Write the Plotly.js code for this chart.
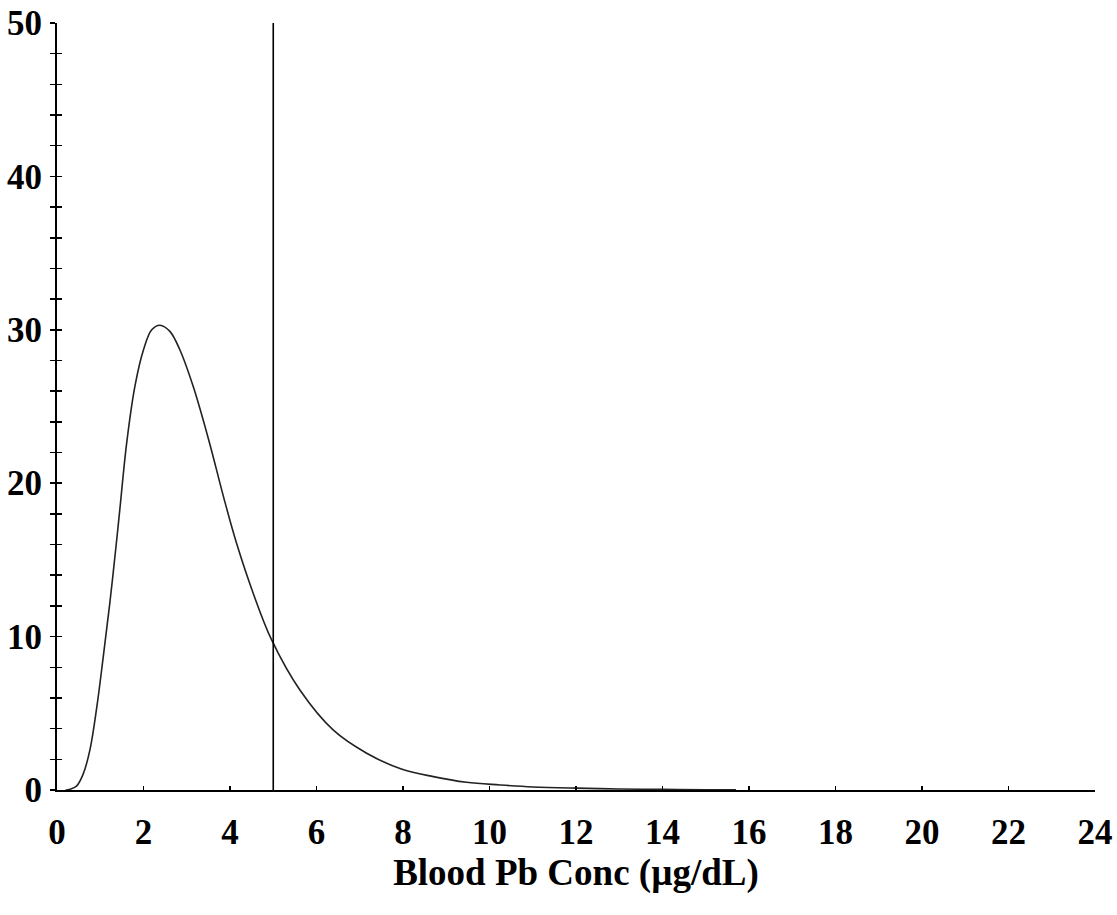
<!DOCTYPE html>
<html>
<head>
<meta charset="utf-8">
<script src="https://cdn.plot.ly/plotly-3.0.1.min.js"></script>
<style>html,body{margin:0;padding:0;background:#fff;}#chart{width:1117px;height:915px;}</style>
</head>
<body>
<div id="chart"></div>
<script>
// Blood Pb concentration distribution
const concX = [0.2, 0.3, 0.45, 0.6, 0.76, 0.92, 1.07, 1.23, 1.38, 1.46, 1.61, 1.80, 2.0, 2.19, 2.38, 2.61, 2.84, 3.15, 3.50, 3.88, 4.15, 4.54, 4.96, 5.62, 6.39, 7.16, 7.93, 8.70, 9.47, 10.24, 11.0, 12.0, 13.0, 14.0, 15.0, 15.7];
const densityY = [0, 0.05, 0.25, 1.0, 2.6, 5.4, 8.7, 12.4, 16.3, 18.5, 22.6, 26.3, 28.7, 30.0, 30.3, 29.9, 28.7, 26.3, 22.9, 18.8, 16.1, 12.8, 9.8, 6.5, 3.9, 2.4, 1.4, 0.87, 0.50, 0.33, 0.2, 0.12, 0.07, 0.04, 0.02, 0.01];
// Reference level line
const refLineX = [5, 5];
const refLineY = [0, 50];
const xTickVals = [0, 2, 4, 6, 8, 10, 12, 14, 16, 18, 20, 22, 24];
const xTitle = 'Blood Pb Conc (µg/dL)';

const family = '"Liberation Serif", "Times New Roman", serif';
const tickFont = {family: family, size: 35, color: '#000', weight: 'bold'};
const titleFont = {family: family, size: 37, color: '#000', weight: 'bold'};

const traces = [
  {x: concX, y: densityY, type: 'scatter', mode: 'lines', line: {color: '#222', width: 1.6, shape: 'spline', smoothing: 1}, hoverinfo: 'skip', showlegend: false},
  {x: refLineX, y: refLineY, type: 'scatter', mode: 'lines', line: {color: '#000', width: 1.6}, yaxis: 'y2', hoverinfo: 'skip', showlegend: false}
];

const layout = {
  width: 1117, height: 915,
  margin: {l: 57, r: 22, t: 23, b: 125},
  paper_bgcolor: '#fff', plot_bgcolor: '#fff',
  font: tickFont,
  showlegend: false,
  xaxis: {
    range: [0, 24], tickvals: xTickVals, ticktext: xTickVals.map(String),
    showgrid: false, zeroline: false, showline: true, linecolor: '#000', linewidth: 2,
    ticks: 'inside', ticklen: 4, tickwidth: 1.5, tickcolor: '#000',
    ticklabelstandoff: 10,
    tickfont: tickFont,
    title: {text: xTitle, font: titleFont, standoff: 6}
  },
  yaxis: {
    range: [0, 50], dtick: 10, tick0: 0,
    showgrid: false, zeroline: false, showline: true, linecolor: '#000', linewidth: 2,
    ticks: 'outside', ticklen: 5, tickwidth: 1.5, tickcolor: '#000',
    minor: {dtick: 2, ticks: 'outside', ticklen: 5, tickwidth: 1.5, tickcolor: '#000', showgrid: false},
    ticklabelstandoff: 1,
    tickfont: tickFont
  },
  yaxis2: {
    overlaying: 'y', side: 'left', range: [0, 50], dtick: 10, tick0: 0,
    showgrid: false, zeroline: false, showline: false, showticklabels: false,
    ticks: 'inside', ticklen: 5, tickwidth: 1.5, tickcolor: '#000',
    minor: {dtick: 2, ticks: 'inside', ticklen: 5, tickwidth: 1.5, tickcolor: '#000', showgrid: false}
  }
};

Plotly.newPlot('chart', traces, layout, {displayModeBar: false, staticPlot: true});
</script>
</body>
</html>
